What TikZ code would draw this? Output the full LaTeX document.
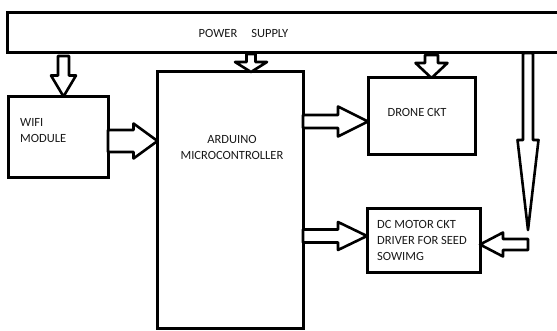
\documentclass[tikz,border=0pt]{standalone}
\usepackage{fontspec}
\setmainfont{Carlito}
\usetikzlibrary{calc}
% block arrow: #1 tail, #2 tip, #3 shaft half width, #4 head half width, #5 head length
\newcommand\blkarrow[5]{%
  \coordinate (ba-h) at ($(#2)!#5!(#1)$);
  \draw[blk] ($(#1)!#3!90:(#2)$) -- ($(ba-h)!#3!90:(#2)$) -- ($(ba-h)!#4!90:(#2)$) -- (#2)
    -- ($(ba-h)!#4!-90:(#2)$) -- ($(ba-h)!#3!-90:(#2)$) -- ($(#1)!#3!-90:(#2)$) -- cycle;
}
\begin{document}
\begin{tikzpicture}[x=1pt,y=-1pt,
  box/.style={draw, line width=3pt, anchor=north west, inner sep=0pt, outer sep=0pt},
  txt/.style={inner sep=0pt, font=\fontsize{12.5}{16}\selectfont, text=black!90},
  blk/.style={draw, line width=2.6pt, line join=round, fill=white}]
\clip (0,0) rectangle (557,331);
\fill[white] (0,0) rectangle (557,331);
% boxes
\node[box, minimum width=600pt, minimum height=40.5pt] (power) at (7,12.5) {};
\node[box, minimum width=99.5pt, minimum height=81pt] (wifi) at (8.5,96.5) {};
\node[box, minimum width=145.5pt, minimum height=256pt] (ard) at (157.5,72) {};
\node[box, minimum width=107pt, minimum height=77pt] (drone) at (368,78) {};
\node[box, minimum width=113pt, minimum height=63pt] (dc) at (367,209) {};
% texts
\node[txt] (pstxt) at (243.5,33) {POWER\hspace{14pt}SUPPLY};
\node[txt, anchor=north west, align=left] (wifitxt) at (20,118.5) {WIFI\\MODULE};
\node[txt, anchor=north, align=center] (ardtxt) at (232,135.5) {ARDUINO\\MICROCONTROLLER};
\node[txt] (dronetxt) at (417,112) {DRONE CKT};
\node[txt, anchor=north west, align=left] (dctxt) at (377,220.5) {DC MOTOR CKT\\DRIVER FOR SEED\\SOWIMG};
% connector end points
\coordinate (p1s) at (63.5,56);   \coordinate (p1e) at (wifi.north -| p1s);
\coordinate (p2s) at (251,54);    \coordinate (p2e) at (ard.north -| p2s);
\coordinate (p3s) at (431.5,55);  \coordinate (p3e) at (drone.north -| p3s);
\coordinate (w1) at (wifi.east |- 0,141);  \coordinate (w2) at (ard.west |- 0,141);
\coordinate (a1) at (ard.east |- 0,121.5); \coordinate (a2) at (drone.west |- 0,121.5);
\coordinate (b1) at (ard.east |- 0,236);   \coordinate (b2) at (dc.west |- 0,236);
\coordinate (r1) at (power.south -| 528,0); \coordinate (r2) at (528,230);
\coordinate (r3) at (528,244.5);           \coordinate (r4) at (dc.east |- r3);
% connectors
\blkarrow{p1s}{p1e}{5.5pt}{12.5pt}{21pt}
\blkarrow{p2s}{p2e}{4.5pt}{16pt}{10pt}
\blkarrow{p3s}{p3e}{6.5pt}{16pt}{15pt}
\blkarrow{w1}{w2}{11pt}{17.5pt}{24pt}
\blkarrow{a1}{a2}{6.5pt}{15pt}{30pt}
\blkarrow{b1}{b2}{6.5pt}{14pt}{29pt}
\blkarrow{r1}{r2}{5pt}{10.5pt}{90pt}
\blkarrow{r3}{r4}{5.5pt}{12pt}{23pt}
\end{tikzpicture}
\end{document}
